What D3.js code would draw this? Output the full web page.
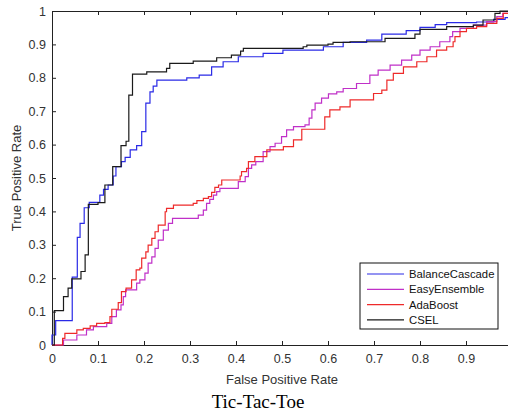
<!DOCTYPE html>
<html>
<head>
<meta charset="utf-8">
<style>
body { margin: 0; background: #fff; }
.axis text { font: 12.5px "Liberation Sans", Arial, sans-serif; fill: #333; }
.axis path, .axis line { stroke: #222; }
.label { font: 13px "Liberation Sans", Arial, sans-serif; fill: #333; text-anchor: middle; }
.title { font: 19px "Liberation Serif", "Times New Roman", serif; fill: #000; text-anchor: middle; }
.legend text { font: 11.3px "Liberation Sans", Arial, sans-serif; fill: #111; }
.roc { fill: none; stroke-width: 1.2px; }
</style>
</head>
<body>
<svg width="508" height="416"></svg>
<script src="https://cdn.jsdelivr.net/npm/d3@7"></script>
<script>
// ROC points [fpr, tpr], drawn as steps (rise at each fpr)
var balanceCascade = [[0,0],[0,0.03],[0.008,0.073],[0.044,0.203],[0.055,0.322],[0.061,0.364],[0.07,0.411],[0.081,0.427],[0.104,0.449],[0.112,0.466],[0.122,0.479],[0.133,0.506],[0.139,0.534],[0.151,0.549],[0.159,0.562],[0.17,0.584],[0.184,0.597],[0.195,0.639],[0.204,0.724],[0.213,0.758],[0.22,0.775],[0.228,0.793],[0.293,0.8],[0.32,0.808],[0.347,0.833],[0.372,0.848],[0.405,0.863],[0.459,0.873],[0.502,0.883],[0.59,0.893],[0.633,0.906],[0.684,0.913],[0.717,0.931],[0.77,0.941],[0.8,0.951],[0.833,0.959],[0.858,0.965],[0.923,0.967],[0.96,0.975],[0.985,0.98],[1,0.98]];
var easyEnsemble = [[0,0],[0.025,0.015],[0.054,0.03],[0.075,0.045],[0.09,0.055],[0.119,0.065],[0.13,0.085],[0.14,0.105],[0.15,0.12],[0.155,0.145],[0.16,0.165],[0.184,0.185],[0.191,0.195],[0.202,0.215],[0.209,0.245],[0.217,0.264],[0.224,0.289],[0.231,0.314],[0.242,0.344],[0.253,0.364],[0.262,0.379],[0.318,0.389],[0.329,0.404],[0.336,0.424],[0.343,0.436],[0.351,0.449],[0.358,0.459],[0.365,0.469],[0.405,0.489],[0.42,0.504],[0.427,0.529],[0.434,0.539],[0.443,0.549],[0.459,0.579],[0.474,0.594],[0.485,0.604],[0.499,0.624],[0.51,0.644],[0.525,0.654],[0.55,0.659],[0.559,0.679],[0.565,0.704],[0.572,0.724],[0.586,0.739],[0.601,0.752],[0.619,0.758],[0.633,0.768],[0.662,0.783],[0.691,0.808],[0.709,0.823],[0.735,0.838],[0.76,0.853],[0.782,0.868],[0.8,0.883],[0.822,0.893],[0.843,0.908],[0.865,0.923],[0.871,0.938],[0.887,0.948],[0.916,0.958],[0.945,0.968],[0.967,0.983],[0.98,0.993],[1,1]];
var adaBoost = [[0,0],[0.023,0.02],[0.028,0.035],[0.054,0.045],[0.068,0.05],[0.083,0.057],[0.097,0.065],[0.115,0.067],[0.126,0.085],[0.13,0.107],[0.144,0.127],[0.151,0.16],[0.161,0.17],[0.173,0.195],[0.183,0.225],[0.191,0.23],[0.195,0.26],[0.204,0.279],[0.209,0.299],[0.217,0.319],[0.224,0.339],[0.231,0.359],[0.246,0.399],[0.249,0.409],[0.264,0.419],[0.307,0.424],[0.315,0.432],[0.329,0.439],[0.34,0.444],[0.347,0.457],[0.354,0.472],[0.362,0.479],[0.369,0.494],[0.409,0.506],[0.412,0.519],[0.423,0.529],[0.427,0.549],[0.441,0.564],[0.467,0.584],[0.503,0.594],[0.525,0.614],[0.543,0.646],[0.593,0.683],[0.604,0.704],[0.626,0.713],[0.648,0.734],[0.699,0.753],[0.717,0.763],[0.728,0.793],[0.742,0.813],[0.764,0.833],[0.793,0.848],[0.815,0.863],[0.836,0.883],[0.858,0.893],[0.872,0.908],[0.876,0.923],[0.887,0.938],[0.901,0.948],[0.923,0.953],[0.945,0.963],[0.967,0.978],[0.981,0.993],[1,1]];
var csel = [[0,0],[0.005,0.103],[0.025,0.145],[0.035,0.17],[0.043,0.198],[0.063,0.22],[0.072,0.27],[0.079,0.421],[0.1,0.426],[0.115,0.479],[0.132,0.534],[0.15,0.597],[0.161,0.61],[0.167,0.748],[0.175,0.811],[0.206,0.818],[0.249,0.828],[0.256,0.843],[0.307,0.85],[0.358,0.86],[0.39,0.868],[0.41,0.88],[0.416,0.888],[0.546,0.893],[0.554,0.898],[0.6,0.901],[0.611,0.906],[0.648,0.908],[0.724,0.918],[0.789,0.931],[0.8,0.945],[0.858,0.953],[0.916,0.958],[0.937,0.973],[0.963,0.993],[0.974,1],[1,1]];

var seriesNames = ["BalanceCascade", "EasyEnsemble", "AdaBoost", "CSEL"];
var seriesData = [balanceCascade, easyEnsemble, adaBoost, csel];
var colors = ["#2a2ae6", "#c030c8", "#ee2a2a", "#1a1a1a"];
var xTicks = [0, 0.1, 0.2, 0.3, 0.4, 0.5, 0.6, 0.7, 0.8, 0.9];
var yTicks = [0, 0.1, 0.2, 0.3, 0.4, 0.5, 0.6, 0.7, 0.8, 0.9, 1];

var svg = d3.select("svg"),
    plotL = 52, plotR = 512, plotT = 11, plotB = 345;

var x = d3.scaleLinear().domain([0, 1]).range([plotL, plotR]);
var y = d3.scaleLinear().domain([0, 1]).range([plotB, plotT]);

// axes, ticks pointing inward like matlab
svg.append("g")
    .attr("class", "axis")
    .attr("transform", "translate(0," + plotB + ")")
    .call(d3.axisBottom(x).tickValues(xTicks).tickFormat(d3.format("")).tickSizeInner(-4).tickSizeOuter(0).tickPadding(9));

svg.append("g")
    .attr("class", "axis")
    .attr("transform", "translate(0," + plotT + ")")
    .call(d3.axisTop(x).tickValues(xTicks).tickFormat("").tickSizeInner(-4).tickSizeOuter(0));

svg.append("g")
    .attr("class", "axis")
    .attr("transform", "translate(" + plotL + ",0)")
    .call(d3.axisLeft(y).tickValues(yTicks).tickFormat(d3.format("")).tickSizeInner(-4).tickSizeOuter(0).tickPadding(6));

svg.append("g")
    .attr("class", "axis")
    .attr("transform", "translate(" + plotR + ",0)")
    .call(d3.axisRight(y).tickValues(yTicks).tickFormat("").tickSizeInner(-4).tickSizeOuter(0));

svg.selectAll(".axis path").attr("stroke-width", 1);

var line = d3.line()
    .curve(d3.curveStepAfter)
    .x(function(d) { return x(d[0]); })
    .y(function(d) { return y(d[1]); });

svg.selectAll(".roc")
  .data(seriesData)
  .enter().append("path")
    .attr("class", "roc")
    .attr("stroke", function(d, i) { return colors[i]; })
    .attr("d", line);

// labels
svg.append("text").attr("class", "label")
    .attr("x", (plotL + plotR) / 2).attr("y", 384)
    .text("False Positive Rate");

svg.append("text").attr("class", "label")
    .attr("transform", "translate(21," + (plotT + plotB) / 2 + ") rotate(-90)")
    .text("True Positive Rate");

svg.append("text").attr("class", "title")
    .attr("x", 258).attr("y", 408)
    .text("Tic-Tac-Toe");

// legend
var legend = svg.append("g").attr("class", "legend")
    .attr("transform", "translate(360,263)");

legend.append("rect")
    .attr("width", 138).attr("height", 66)
    .attr("fill", "#fff").attr("stroke", "#111");

var item = legend.selectAll(".item")
  .data(seriesNames)
  .enter().append("g")
    .attr("class", "item")
    .attr("transform", function(d, i) { return "translate(0," + (11 + i * 15.3) + ")"; });

item.append("line")
    .attr("x1", 7).attr("x2", 44)
    .attr("stroke", function(d, i) { return colors[i]; })
    .attr("stroke-width", 1.2);

item.append("text")
    .attr("x", 49).attr("dy", "0.35em")
    .text(function(d) { return d; });
</script>
</body>
</html>
